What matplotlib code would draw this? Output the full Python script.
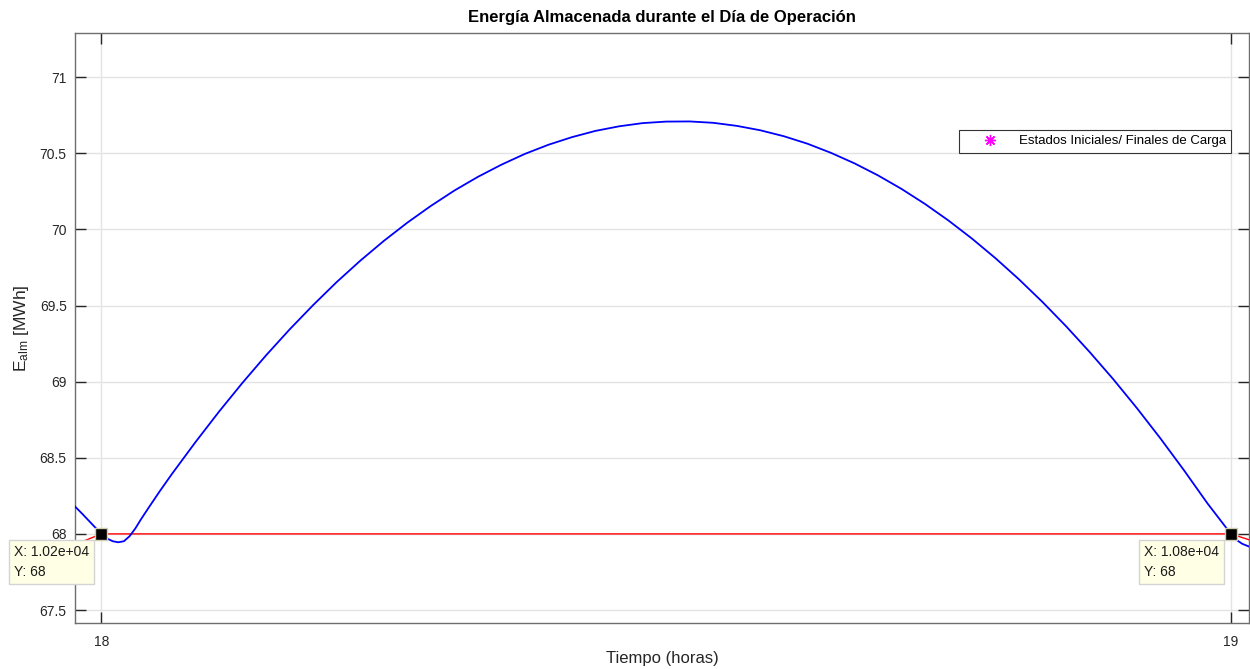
import numpy as np
import matplotlib.pyplot as plt
from matplotlib.ticker import FuncFormatter

plt.rcParams['font.family'] = ['Liberation Sans', 'DejaVu Sans']
plt.rcParams['mathtext.fontset'] = 'custom'
plt.rcParams['mathtext.rm'] = 'Liberation Sans'
plt.rcParams['mathtext.it'] = 'Liberation Sans'

# Tiempo en muestras (600 muestras por hora) y energia almacenada en MWh
t = [10186, 10190, 10195, 10200, 10203, 10206, 10209, 10212, 10215, 10218,
     10221, 10225, 10231, 10237.5, 10250, 10262.5, 10275, 10287.5, 10300, 10312.5, 10325,
     10337.5, 10350, 10362.5, 10375, 10387.5, 10400, 10412.5, 10425, 10437.5, 10450,
     10462.5, 10475, 10487.5, 10500, 10512.5, 10525, 10537.5, 10550, 10562.5, 10575,
     10587.5, 10600, 10612.5, 10625, 10637.5, 10650, 10662.5, 10675, 10687.5, 10700,
     10712.5, 10725, 10737.5, 10750, 10762.5, 10775, 10787.5, 10800, 10803, 10806,
     10810]
e_alm = [68.180, 68.130, 68.065, 68.000, 67.970, 67.952, 67.945, 67.952, 67.985, 68.035,
         68.095, 68.170, 68.280, 68.394, 68.603, 68.803, 68.993, 69.173, 69.343, 69.503, 69.654,
         69.794, 69.924, 70.044, 70.154, 70.255, 70.345, 70.425, 70.496, 70.556, 70.606,
         70.647, 70.677, 70.698, 70.708, 70.709, 70.700, 70.680, 70.651, 70.612, 70.563,
         70.503, 70.434, 70.355, 70.266, 70.167, 70.058, 69.939, 69.810, 69.671, 69.522,
         69.363, 69.194, 69.016, 68.827, 68.628, 68.419, 68.201, 68.000, 67.960, 67.935,
         67.915]

# Referencia de carga inicial/final
t_ref = [10186, 10200, 10800, 10810]
e_ref = [67.93, 68.0, 68.0, 67.96]

# Estados iniciales y finales
t_ini_fin = [10200, 10800]
e_ini_fin = [68, 68]

x_ticks = [10200, 10800]
x_tick_labels = ['18', '19']
y_ticks = [67.5, 68, 68.5, 69, 69.5, 70, 70.5, 71]

fig = plt.figure(figsize=(12.5, 6.69), dpi=100)
ax = fig.add_axes([0.06, 0.0688, 0.9392, 0.8819])

ax.plot(t_ref, e_ref, color='r', linewidth=1.0, zorder=3)
ax.plot(t, e_alm, color='b', linewidth=1.3, zorder=4)
ax.plot(t_ini_fin, e_ini_fin, linestyle='none', marker=(8, 2, 0), color='#ff00ff',
        markersize=8, label='Estados Iniciales/ Finales de Carga', zorder=5)

# Cuadros de datos (datatips)
for xv, yv in zip(t_ini_fin, e_ini_fin):
    ax.plot(xv, yv, marker='s', color='k', markersize=9, markeredgecolor='#cfcfb0',
            markeredgewidth=1, linestyle='none', zorder=6)
    ax.annotate('X: %.2e\nY: %g' % (xv, yv), xy=(xv, yv), xytext=(-12, -11),
                textcoords='offset pixels', ha='right', va='top', multialignment='left',
                fontsize=10, color='#1a1a1a', linespacing=1.55, zorder=7,
                annotation_clip=False,
                bbox=dict(boxstyle='square,pad=0.35', facecolor='#ffffe6',
                          edgecolor='#d4d4d4', linewidth=1))

ax.set_xlim(10186, 10809.6)
ax.set_ylim(67.415, 71.29)
ax.set_xticks(x_ticks)
ax.set_xticklabels(x_tick_labels)
ax.set_yticks(y_ticks)
ax.yaxis.set_major_formatter(FuncFormatter(lambda v, p: '%g' % v))

ax.grid(True, color='#e3e3e3', linewidth=1)
ax.set_axisbelow(True)
ax.tick_params(direction='in', length=8, width=1, colors='#262626', labelsize=10,
               top=True, right=True, pad=6)
ax.tick_params(axis='x', pad=9)
for s in ax.spines.values():
    s.set_color('#6e6e6e')
    s.set_linewidth(1)

ax.set_title('Energía Almacenada durante el Día de Operación', fontsize=12,
             fontweight='bold', pad=8)
ax.set_xlabel('Tiempo (horas)', fontsize=12, color='#262626', labelpad=1)
ax.set_ylabel(r'E$_{\mathrm{alm}}$ [MWh]', fontsize=12.5, color='#262626', labelpad=6)

leg = ax.legend(loc='upper right', bbox_to_anchor=(0.9847, 0.8356), borderaxespad=0,
                fontsize=9.5, handlelength=3.8, handletextpad=0.3, fancybox=False,
                framealpha=1, edgecolor='#333333')
leg.get_frame().set_linewidth(0.8)

fig.savefig('out.png', dpi=100)
